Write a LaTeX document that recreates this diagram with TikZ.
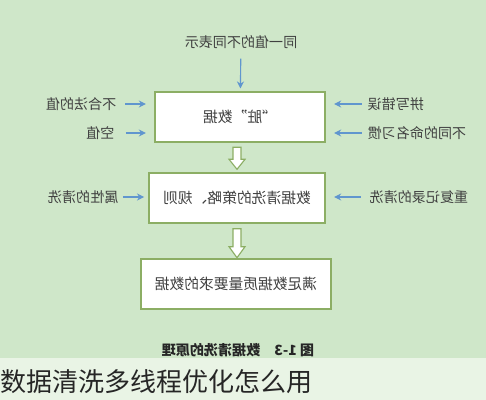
\documentclass[tikz,border=0pt]{standalone}
\usepackage{fontspec}
\usepackage{graphicx}
\newfontfamily\cjk{Noto Sans CJK SC}
\usetikzlibrary{positioning,arrows.meta}
\definecolor{bggreen}{RGB}{207,231,201}
\definecolor{bandgreen}{RGB}{233,244,229}
\definecolor{boxgreen}{RGB}{140,174,100}
\definecolor{arrowblue}{RGB}{96,150,206}
\tikzset{
  stage/.style={draw=boxgreen,line width=1pt,fill=white,minimum height=1.25cm,
    font=\cjk\fontsize{10.5}{12}\selectfont,text=black!75},
  cause/.style={font=\cjk\fontsize{10}{12}\selectfont,text=black!75,inner sep=1pt},
  feed/.style={arrowblue,line width=0.8pt,-{Stealth[length=5pt,width=5pt]}},
  hollow/.style={draw=boxgreen,line width=0.8pt,fill=white},
}
\newcommand{\mirror}[1]{\reflectbox{#1}}
\begin{document}
\begin{tikzpicture}[x=0.025cm,y=-0.025cm]
  % Background
  \fill[bggreen] (0,0) rectangle (486,400);
  \fill[bandgreen] (0,358) rectangle (486,400);
  % Boxes
  \node[stage,minimum width=4.25cm] (dirty) at (240,117) {\mirror{“脏”数据}};
  \node[stage,minimum width=4.4cm] (rules) at (237,198) {\mirror{数据清洗的策略、规则}};
  \node[stage,minimum width=4.75cm] (clean) at (236,284) {\mirror{满足数据质量要求的数据}};
  % Causes around the first box
  \node[cause] (variants) at (241,42) {\mirror{同一值的不同表示}};
  \node[cause,anchor=east] (illegal) at (118,104) {\mirror{不合法的值}};
  \node[cause,anchor=east] (empty) at (116,133) {\mirror{空值}};
  \node[cause,anchor=west] (spelling) at (366,104) {\mirror{拼写错误}};
  \node[cause,anchor=west] (naming) at (366,133) {\mirror{不同的命名习惯}};
  \draw[feed,shorten <=6pt,shorten >=2pt] (variants) -- (dirty);
  \draw[feed,shorten <=5pt,shorten >=6pt] (illegal) -- (illegal -| dirty.west);
  \draw[feed,shorten <=7pt,shorten >=6pt] (empty) -- (empty -| dirty.west);
  \draw[feed,shorten <=3pt,shorten >=6pt] (spelling) -- (spelling -| dirty.east);
  \draw[feed,shorten <=3pt,shorten >=6pt] (naming) -- (naming -| dirty.east);
  % Causes around the second box
  \node[cause,anchor=east] (attrs) at (120,197) {\mirror{属性的清洗}};
  \node[cause,anchor=west] (dupes) at (368,197) {\mirror{重复记录的清洗}};
  \draw[feed,shorten <=2pt,shorten >=3pt] (attrs) -- (attrs -| rules.west);
  \draw[feed,shorten <=5pt,shorten >=6pt] (dupes) -- (dupes -| rules.east);
  % Hollow arrows between boxes
  \draw[hollow] (rules.north) ++(-4,-25) -- ++(0,12) -- ++(-4,0) -- ++(8,10)
    -- ++(8,-10) -- ++(-4,0) -- ++(0,-12) -- cycle;
  \draw[hollow] (rules.south) ++(-4,5) -- ++(0,18) -- ++(-4,0) -- ++(8,11)
    -- ++(8,-11) -- ++(-4,0) -- ++(0,-18) -- cycle;
  % Caption and title band
  \node[cause,font=\cjk\bfseries\fontsize{10}{12}\selectfont,text=black!85] (caption)
    at (238,350) {\mirror{图 1-3\quad 数据清洗的原理}};
  \node[anchor=west,inner sep=0pt,font=\cjk\fontsize{18.5}{20}\selectfont,text=black!85]
    (title) at (0,382) {数据清洗多线程优化怎么用};
\end{tikzpicture}
\end{document}
